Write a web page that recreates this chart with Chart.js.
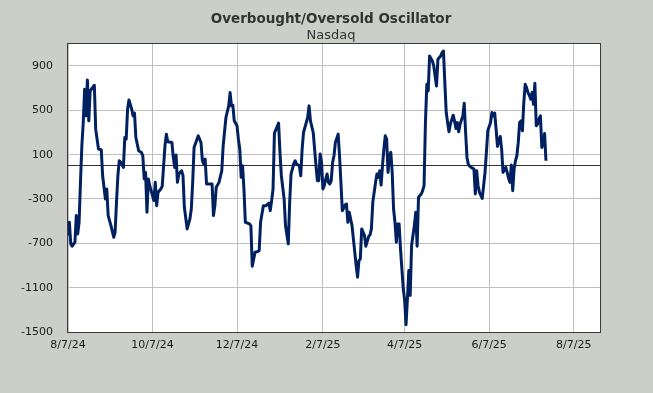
<!DOCTYPE html>
<html>
<head>
<meta charset="utf-8">
<script src="https://cdn.jsdelivr.net/npm/chart.js@4.4.1/dist/chart.umd.min.js"></script>
<style>
  html, body { margin: 0; padding: 0; background: #cbcfc8; }
  canvas { display: block; }
</style>
</head>
<body>
<canvas id="myChart" width="653" height="393"></canvas>
<script>
// days after 8/7/24 and the oscillator reading on that day
const days = [
  0, 1, 2, 3, 5, 6, 7, 8, 9, 10, 11, 12, 13, 14, 15, 16, 19, 20, 22, 24,
  25, 27, 28, 29, 31, 33, 34, 35, 36, 37, 39, 40, 41, 42, 43, 44, 46, 47, 48, 49,
  51, 53, 54, 55, 56, 57, 58, 59, 61, 62, 63, 64, 65, 67, 68, 70, 71, 72, 75, 76,
  77, 78, 79, 80, 82, 83, 84, 86, 88, 89, 90, 91, 94, 96, 97, 98, 99, 100, 104, 105,
  106, 107, 109, 111, 112, 114, 116, 117, 118, 119, 120, 122, 123, 124, 125, 126, 127, 128, 131, 132,
  133, 135, 137, 138, 139, 141, 143, 145, 146, 147, 148, 149, 150, 152, 153, 154, 156, 157, 159, 160,
  161, 163, 164, 165, 167, 168, 169, 170, 172, 173, 174, 175, 177, 178, 179, 180, 181, 182, 183, 184,
  185, 186, 187, 188, 189, 190, 191, 192, 193, 195, 196, 197, 198, 199, 200, 201, 202, 203, 205, 206,
  207, 208, 209, 210, 211, 212, 214, 215, 217, 218, 219, 220, 222, 223, 224, 225, 226, 227, 228, 229,
  230, 231, 232, 233, 234, 235, 236, 237, 238, 239, 240, 241, 242, 243, 244, 245, 246, 247, 248, 249,
  250, 251, 252, 253, 255, 256, 257, 258, 259, 260, 261, 263, 264, 265, 266, 267, 269, 270, 271, 272,
  273, 274, 275, 276, 278, 279, 280, 281, 282, 283, 285, 286, 287, 288, 289, 290, 291, 293, 294, 295,
  296, 297, 299, 300, 301, 302, 303, 305, 306, 307, 308, 309, 310, 311, 312, 313, 314, 315, 316, 317,
  318, 319, 320, 321, 322, 323, 324, 325, 326, 327, 328, 329, 330, 331, 332, 333, 334, 335, 336, 337,
  338, 339, 340, 341, 342, 343, 344, 345
];
const oscillator = [
  -630, -510, -705, -726, -690, -450, -615, -510, -150, 180, 390, 690, 450, 774, 405, 675, 726, 330, 150, 144,
  -90, -300, -210, -450, -540, -645, -600, -330, -90, 45, 15, -15, 255, 240, 510, 594, 510, 450, 474, 255,
  135, 120, 90, -120, -60, -420, -120, -180, -270, -315, -150, -360, -240, -210, -186, 180, 285, 216, 210, 75,
  -15, 96, -150, -75, -45, -90, -375, -570, -480, -390, -150, 165, 270, 210, 45, 15, 60, -165, -165, -450,
  -360, -195, -150, -45, 180, 435, 540, 660, 540, 546, 405, 360, 240, 150, -105, 0, -210, -510, -525, -540,
  -906, -780, -774, -765, -510, -360, -360, -336, -405, -315, -210, 294, 324, 384, 120, -90, -300, -540, -705, -330,
  -75, 21, 45, 15, 0, -90, 150, 300, 390, 435, 540, 405, 300, 150, 0, -135, -135, 105, 30, -210,
  -180, -120, -75, -150, -165, -135, 30, 90, 210, 285, 90, -150, -405, -384, -354, -345, -510, -420, -540, -660,
  -780, -900, -1005, -855, -840, -570, -630, -726, -639, -624, -570, -330, -150, -75, -105, -45, -174, 0, 150, 270,
  240, -60, 90, 120, -60, -390, -510, -690, -525, -525, -750, -930, -1110, -1215, -1434, -1200, -945, -1170, -720, -630,
  -540, -420, -726, -285, -255, -225, -180, 390, 735, 675, 990, 945, 900, 810, 720, 960, 990, 1020, 1035, 750,
  480, 390, 306, 375, 456, 405, 336, 390, 306, 375, 450, 564, 300, 75, 10, -6, -15, -30, -255, -45,
  -180, -240, -294, -180, -60, 120, 315, 390, 480, 450, 474, 330, 174, 225, 264, 150, -60, -36, -15, -60,
  -114, -150, 6, -225, -30, 45, 90, 210, 390, 405, 315, 570, 735, 705, 660, 636, 600, 660, 555, 744,
  360, 375, 420, 450, 165, 195, 290, 45
];

const xTickLabels = ['8/7/24', '10/7/24', '12/7/24', '2/7/25', '4/7/25', '6/7/25', '8/7/25'];
const yTicks = [-1500, -1100, -700, -300, 100, 500, 900];
const xEndDate = '8/26/25';

function dayOf(label) {
    const [m, d, y] = label.split('/').map(Number);
    return Math.round((Date.UTC(2000 + y, m - 1, d) - Date.UTC(2024, 7, 7)) / 86400000);
}

const xTickDays = xTickLabels.map(dayOf);

const plotFrame = {
    id: 'plotFrame',
    beforeDraw(chart) {
        const { ctx, chartArea: a } = chart;
        ctx.save();
        ctx.fillStyle = '#ffffff';
        ctx.fillRect(a.left, a.top, a.right - a.left, a.bottom - a.top);
        ctx.restore();
    },
    beforeDatasetsDraw(chart) {
        const { ctx, chartArea: a } = chart;
        const y0 = Math.round(chart.scales.y.getPixelForValue(0)) - 0.5;
        ctx.save();
        ctx.strokeStyle = '#333333';
        ctx.lineWidth = 1;
        ctx.beginPath();
        ctx.moveTo(a.left, y0);
        ctx.lineTo(a.right, y0);
        ctx.stroke();
        ctx.restore();
    },
    afterDraw(chart) {
        const { ctx, chartArea: a } = chart;
        ctx.save();
        ctx.strokeStyle = '#3a3a3a';
        ctx.lineWidth = 1;
        ctx.strokeRect(Math.round(a.left) - 0.5, Math.round(a.top) - 0.5,
            Math.round(a.right - a.left) + 1, Math.round(a.bottom - a.top) + 1);
        ctx.restore();
    }
};

const font = 'DejaVu Sans, Verdana, sans-serif';

new Chart(document.getElementById('myChart'), {
    type: 'line',
    data: {
        datasets: [
            {
                label: 'Nasdaq',
                data: days.map((d, i) => ({ x: d, y: oscillator[i] })),
                borderColor: '#002060',
                borderWidth: 3,
                borderJoinStyle: 'round',
                pointRadius: 0,
                tension: 0
            }
        ]
    },
    options: {
        responsive: false,
        animation: false,
        events: [],
        layout: { padding: { left: 9, right: 0, top: 0, bottom: 0 } },
        plugins: {
            legend: { display: false },
            tooltip: { enabled: false },
            title: {
                display: true,
                text: 'Overbought/Oversold Oscillator',
                color: '#333333',
                font: { family: font, size: 13.5, weight: 'bold' },
                padding: { top: 11, bottom: 0 }
            },
            subtitle: {
                display: true,
                text: 'Nasdaq',
                color: '#333333',
                font: { family: font, size: 13 },
                padding: { top: 1, bottom: 0 }
            }
        },
        scales: {
            x: {
                type: 'linear',
                min: 0,
                max: dayOf(xEndDate),
                afterBuildTicks: (scale) => {
                    scale.ticks = xTickDays.map(v => ({ value: v }));
                },
                afterFit: (scale) => { scale.height = 61; },
                ticks: {
                    color: '#1a1a1a',
                    font: { family: font, size: 11 },
                    padding: 7,
                    maxRotation: 0,
                    callback: (value) => xTickLabels[xTickDays.indexOf(value)]
                },
                grid: { color: '#c0c0c0', drawTicks: false },
                border: { display: false }
            },
            y: {
                min: -1500,
                max: 1100,
                afterBuildTicks: (scale) => {
                    scale.ticks = yTicks.map(v => ({ value: v }));
                },
                afterFit: (scale) => { scale.width = 59; },
                ticks: {
                    color: '#1a1a1a',
                    font: { family: font, size: 11 },
                    padding: 15,
                    callback: (value) => String(value)
                },
                grid: { color: '#c0c0c0', drawTicks: false },
                border: { display: false }
            },
            yRight: {
                position: 'right',
                afterFit: (scale) => { scale.width = 53; },
                ticks: { display: false },
                grid: { display: false },
                border: { display: false }
            }
        }
    },
    plugins: [plotFrame]
});
</script>
</body>
</html>
